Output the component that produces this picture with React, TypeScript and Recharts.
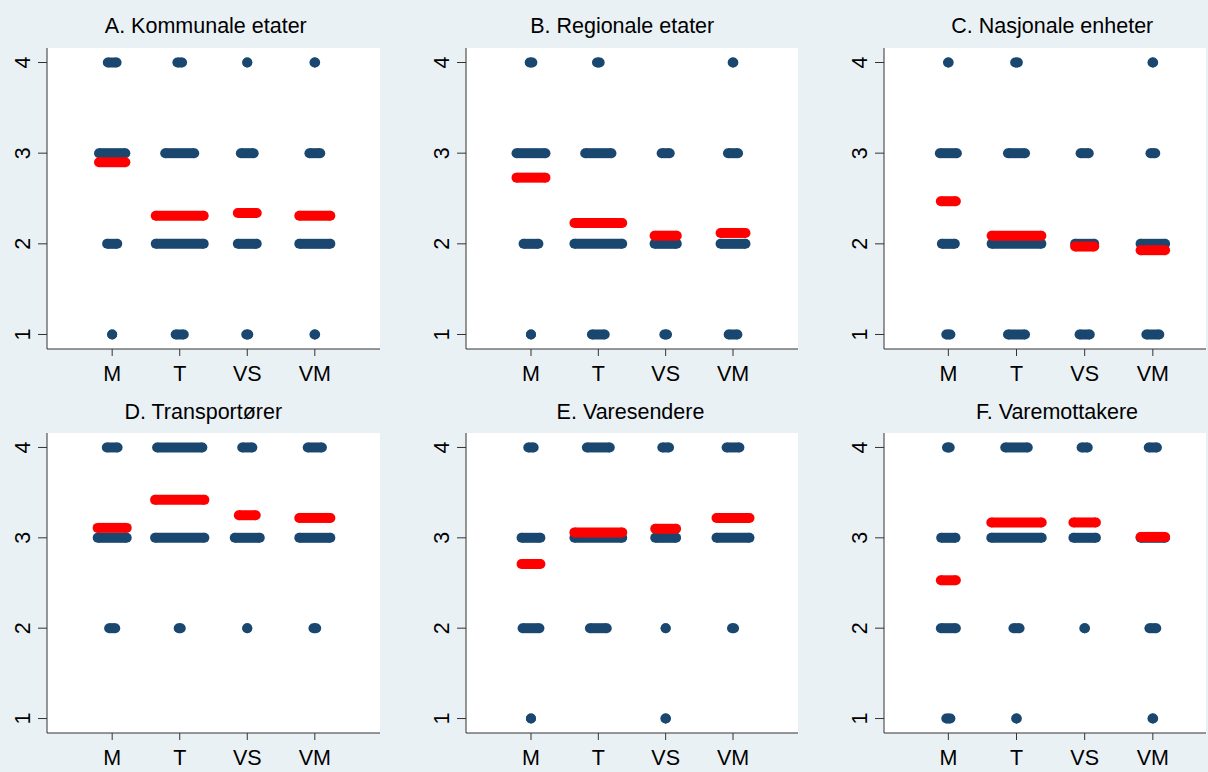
import { Scatter, ScatterChart, XAxis, YAxis } from "recharts"

const categories = ["M", "T", "VS", "VM"]
const levels = [1, 2, 3, 4]
const titles = [
  "A. Kommunale etater",
  "B. Regionale etater",
  "C. Nasjonale enheter",
  "D. Transportører",
  "E. Varesendere",
  "F. Varemottakere",
]

// jitter spread (x units) of each answer cluster: one row per category, levels 1..4
// null = nobody gave that answer
const spreadA = [
  [0, 0.15, 0.39, 0.13],
  [0.12, 0.71, 0.43, 0.07],
  [0.03, 0.28, 0.19, 0],
  [0.01, 0.46, 0.16, 0.01],
]
const meanA = [2.9, 2.31, 2.34, 2.31]
const meanSpreadA = [0.39, 0.71, 0.28, 0.46]

const spreadB = [
  [0, 0.22, 0.43, 0.04],
  [0.19, 0.71, 0.39, 0.04],
  [0.04, 0.33, 0.12, null],
  [0.13, 0.37, 0.15, 0.01],
]
const meanB = [2.73, 2.23, 2.09, 2.12]
const meanSpreadB = [0.43, 0.71, 0.33, 0.37]

const spreadC = [
  [0.06, 0.19, 0.25, 0.01],
  [0.25, 0.73, 0.25, 0.04],
  [0.15, 0.28, 0.12, null],
  [0.19, 0.36, 0.07, 0.01],
]
const meanC = [2.47, 2.09, 1.97, 1.93]
const meanSpreadC = [0.22, 0.73, 0.28, 0.36]

const spreadD = [
  [null, 0.09, 0.43, 0.16],
  [null, 0.03, 0.73, 0.67],
  [null, 0, 0.37, 0.15],
  [null, 0.04, 0.46, 0.21],
]
const meanD = [3.11, 3.42, 3.25, 3.22]
const meanSpreadD = [0.43, 0.73, 0.25, 0.46]

const spreadE = [
  [0, 0.25, 0.28, 0.08],
  [null, 0.25, 0.71, 0.34],
  [0.01, 0, 0.31, 0.1],
  [null, 0.03, 0.49, 0.19],
]
const meanE = [2.71, 3.06, 3.1, 3.22]
const meanSpreadE = [0.28, 0.71, 0.31, 0.49]

const spreadF = [
  [0.06, 0.22, 0.21, 0.04],
  [0.01, 0.09, 0.74, 0.33],
  [null, 0.01, 0.33, 0.09],
  [0.01, 0.1, 0.36, 0.12],
]
const meanF = [2.53, 3.17, 3.17, 3.01]
const meanSpreadF = [0.22, 0.74, 0.33, 0.36]

const BG = "#eaf1f5"
const NAVY = "#1a476f"
const RED = "#ff0000"
const AXIS = "#333"
const FONT = "'Liberation Sans', Arial, sans-serif"
const FS = 21.5

// plot-area boxes in page pixels
const layout = [
  { left: 47, right: 380, top: 48, bottom: 349, xDomain: [0.035, 4.965], titleX: 205.8, titleY: 33.3 },
  { left: 466, right: 798, top: 48, bottom: 349, xDomain: [0.035, 4.965], titleX: 622.2, titleY: 33.3 },
  { left: 884, right: 1206, top: 48, bottom: 349, xDomain: [0.056, 4.78], titleX: 1052.3, titleY: 33.3 },
  { left: 47, right: 380, top: 433, bottom: 733, xDomain: [0.035, 4.965], titleX: 203.3, titleY: 419.3 },
  { left: 466, right: 798, top: 433, bottom: 733, xDomain: [0.035, 4.965], titleX: 630.5, titleY: 419.3 },
  { left: 884, right: 1206, top: 433, bottom: 733, xDomain: [0.056, 4.78], titleX: 1057, titleY: 419.3 },
]

const panelData = [
  { spread: spreadA, mean: meanA, meanSpread: meanSpreadA },
  { spread: spreadB, mean: meanB, meanSpread: meanSpreadB },
  { spread: spreadC, mean: meanC, meanSpread: meanSpreadC },
  { spread: spreadD, mean: meanD, meanSpread: meanSpreadD },
  { spread: spreadE, mean: meanE, meanSpread: meanSpreadE },
  { spread: spreadF, mean: meanF, meanSpread: meanSpreadF },
]

type Cluster = { key: string; color: string; pts: { x: number; y: number }[] }

function buildClusters(spread: (number | null)[][], mean: number[], meanSpread: number[]) {
  const out: Cluster[] = []
  spread.forEach((row, i) => {
    row.forEach((s, j) => {
      if (s === null) return
      const x = i + 1
      out.push({
        key: `b${i}-${j}`,
        color: NAVY,
        pts: [
          { x: x - s / 2, y: levels[j] },
          { x: x + s / 2, y: levels[j] },
        ],
      })
    })
  })
  // means go on top
  mean.forEach((m, i) => {
    const s = meanSpread[i]
    out.push({
      key: `m${i}`,
      color: RED,
      pts: [
        { x: i + 1 - s / 2, y: m },
        { x: i + 1 + s / 2, y: m },
      ],
    })
  })
  return out
}

function XTick(props: any) {
  const { x, y, payload } = props
  return (
    <text x={x} y={y} dy="0.71em" textAnchor="middle" fontSize={FS} fontFamily={FONT} fill="#000">
      {categories[payload.value - 1]}
    </text>
  )
}

function YTick(props: any) {
  const { x, y, payload } = props
  return (
    <text
      x={x}
      y={y}
      transform={`rotate(-90 ${x} ${y})`}
      textAnchor="middle"
      fontSize={FS}
      fontFamily={FONT}
      fill="#000"
    >
      {payload.value}
    </text>
  )
}

function Panel({ idx }: { idx: number }) {
  const geo = layout[idx]
  const { spread, mean, meanSpread } = panelData[idx]
  const clusters = buildClusters(spread, mean, meanSpread)
  const plotW = geo.right - geo.left
  const plotH = geo.bottom - geo.top
  const yw = 47
  const mt = 5
  const xh = 45

  return (
    <>
      <div
        style={{
          position: "absolute",
          left: geo.left,
          top: geo.top,
          width: plotW,
          height: plotH,
          background: "#fff",
        }}
      />
      <div style={{ position: "absolute", left: geo.left - yw, top: geo.top - mt }}>
        <ScatterChart
          width={yw + plotW + 2}
          height={mt + plotH + xh}
          margin={{ top: mt, right: 2, bottom: 0, left: 0 }}
        >
          <XAxis
            type="number"
            dataKey="x"
            domain={geo.xDomain}
            allowDataOverflow
            ticks={[1, 2, 3, 4]}
            interval={0}
            height={xh}
            tickSize={7}
            tickMargin={10}
            stroke={AXIS}
            tick={XTick}
          />
          <YAxis
            type="number"
            dataKey="y"
            domain={[0.84, 4.16]}
            allowDataOverflow
            ticks={levels}
            interval={0}
            width={yw}
            tickSize={9}
            tickMargin={8}
            stroke={AXIS}
            tick={YTick}
          />
          {clusters.map((c) => (
            <Scatter
              key={c.key}
              data={c.pts}
              fill={c.color}
              line={{ stroke: c.color, strokeWidth: 10 }}
              shape={(p: any) => <circle cx={p.cx} cy={p.cy} r={5} fill={c.color} />}
              legendType="none"
              isAnimationActive={false}
            />
          ))}
        </ScatterChart>
      </div>
    </>
  )
}

export default function App() {
  return (
    <div
      style={{
        position: "fixed",
        left: 0,
        top: 0,
        width: 1208,
        height: 772,
        overflow: "hidden",
        background: BG,
      }}
    >
      {layout.map((_, i) => (
        <Panel key={i} idx={i} />
      ))}
      <svg
        width={1208}
        height={772}
        style={{ position: "absolute", left: 0, top: 0, pointerEvents: "none" }}
      >
        {layout.map((g, i) => (
          <text
            key={i}
            x={g.titleX}
            y={g.titleY}
            textAnchor="middle"
            fontSize={FS}
            fontFamily={FONT}
            fill="#000"
          >
            {titles[i]}
          </text>
        ))}
      </svg>
    </div>
  )
}
